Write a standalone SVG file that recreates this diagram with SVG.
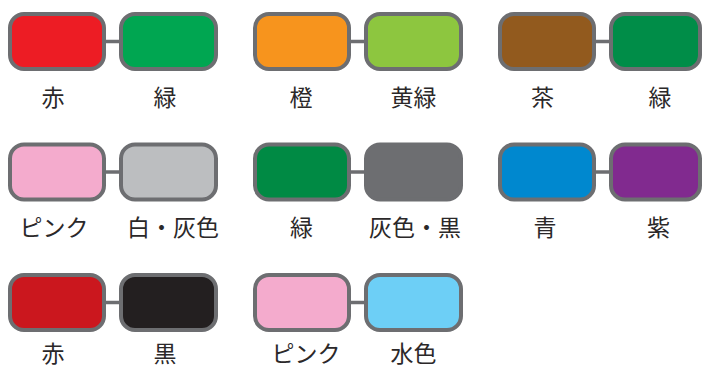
<svg xmlns="http://www.w3.org/2000/svg" width="703" height="369" viewBox="0 0 703 369">
<style>
.lens{stroke:#6d6e71;stroke-width:4}
.br{stroke:#6d6e71;stroke-width:3.5}
.lb{font-family:"Noto Sans CJK JP","Noto Sans",sans-serif;font-size:23px;fill:#2b2829;text-anchor:middle}
</style>
<rect width="703" height="369" fill="#ffffff"/>
<g id="connectors">
<line class="br" x1="105" y1="41.5" x2="120" y2="41.5"/>
<line class="br" x1="350" y1="41.5" x2="365" y2="41.5"/>
<line class="br" x1="595" y1="41.5" x2="610" y2="41.5"/>
<line class="br" x1="105" y1="172" x2="120" y2="172"/>
<line class="br" x1="350" y1="172" x2="365" y2="172"/>
<line class="br" x1="595" y1="172" x2="610" y2="172"/>
<line class="br" x1="105" y1="302.5" x2="120" y2="302.5"/>
<line class="br" x1="350" y1="302.5" x2="365" y2="302.5"/>
</g>
<g id="pair-red-green">
<rect class="lens" x="10" y="14" width="94" height="55" rx="14" fill="#ed1c24"/>
<rect class="lens" x="121" y="14" width="95" height="55" rx="14" fill="#00a651"/>
<text class="lb" x="53" y="106">赤</text>
<text class="lb" x="165" y="106">緑</text>
</g>
<g id="pair-orange-yellowgreen">
<rect class="lens" x="255" y="14" width="94" height="55" rx="14" fill="#f7941d"/>
<rect class="lens" x="366" y="14" width="95" height="55" rx="14" fill="#8dc63f"/>
<text class="lb" x="301" y="106">橙</text>
<text class="lb" x="413.5" y="106">黄緑</text>
</g>
<g id="pair-brown-green">
<rect class="lens" x="500" y="14" width="94" height="55" rx="14" fill="#925a1e"/>
<rect class="lens" x="611" y="14" width="89" height="55" rx="14" fill="#008d48"/>
<text class="lb" x="542.5" y="106">茶</text>
<text class="lb" x="660" y="106">緑</text>
</g>
<g id="pair-pink-gray">
<rect class="lens" x="10" y="144.5" width="94" height="55" rx="14" fill="#f4abcd"/>
<rect class="lens" x="121" y="144.5" width="95" height="55" rx="14" fill="#bcbec0"/>
<text class="lb" x="54" y="236">ピンク</text>
<text class="lb" x="173" y="236">白・灰色</text>
</g>
<g id="pair-green-grayblack">
<rect class="lens" x="255" y="144.5" width="94" height="55" rx="14" fill="#008a44"/>
<rect class="lens" x="366" y="144.5" width="95" height="55" rx="14" fill="#6d6e71"/>
<text class="lb" x="301.5" y="236">緑</text>
<text class="lb" x="415" y="236">灰色・黒</text>
</g>
<g id="pair-blue-purple">
<rect class="lens" x="500" y="144.5" width="94" height="55" rx="14" fill="#0088cf"/>
<rect class="lens" x="611" y="144.5" width="89" height="55" rx="14" fill="#812a8f"/>
<text class="lb" x="545" y="236">青</text>
<text class="lb" x="658.5" y="236">紫</text>
</g>
<g id="pair-red-black">
<rect class="lens" x="10" y="275" width="94" height="55" rx="14" fill="#cb171e"/>
<rect class="lens" x="121" y="275" width="95" height="55" rx="14" fill="#231f20"/>
<text class="lb" x="53" y="361.5">赤</text>
<text class="lb" x="165" y="361.5">黒</text>
</g>
<g id="pair-pink-lightblue">
<rect class="lens" x="255" y="275" width="94" height="55" rx="14" fill="#f4abcd"/>
<rect class="lens" x="366" y="275" width="95" height="55" rx="14" fill="#6dcff6"/>
<text class="lb" x="306" y="361.5">ピンク</text>
<text class="lb" x="413.5" y="361.5">水色</text>
</g>
</svg>
